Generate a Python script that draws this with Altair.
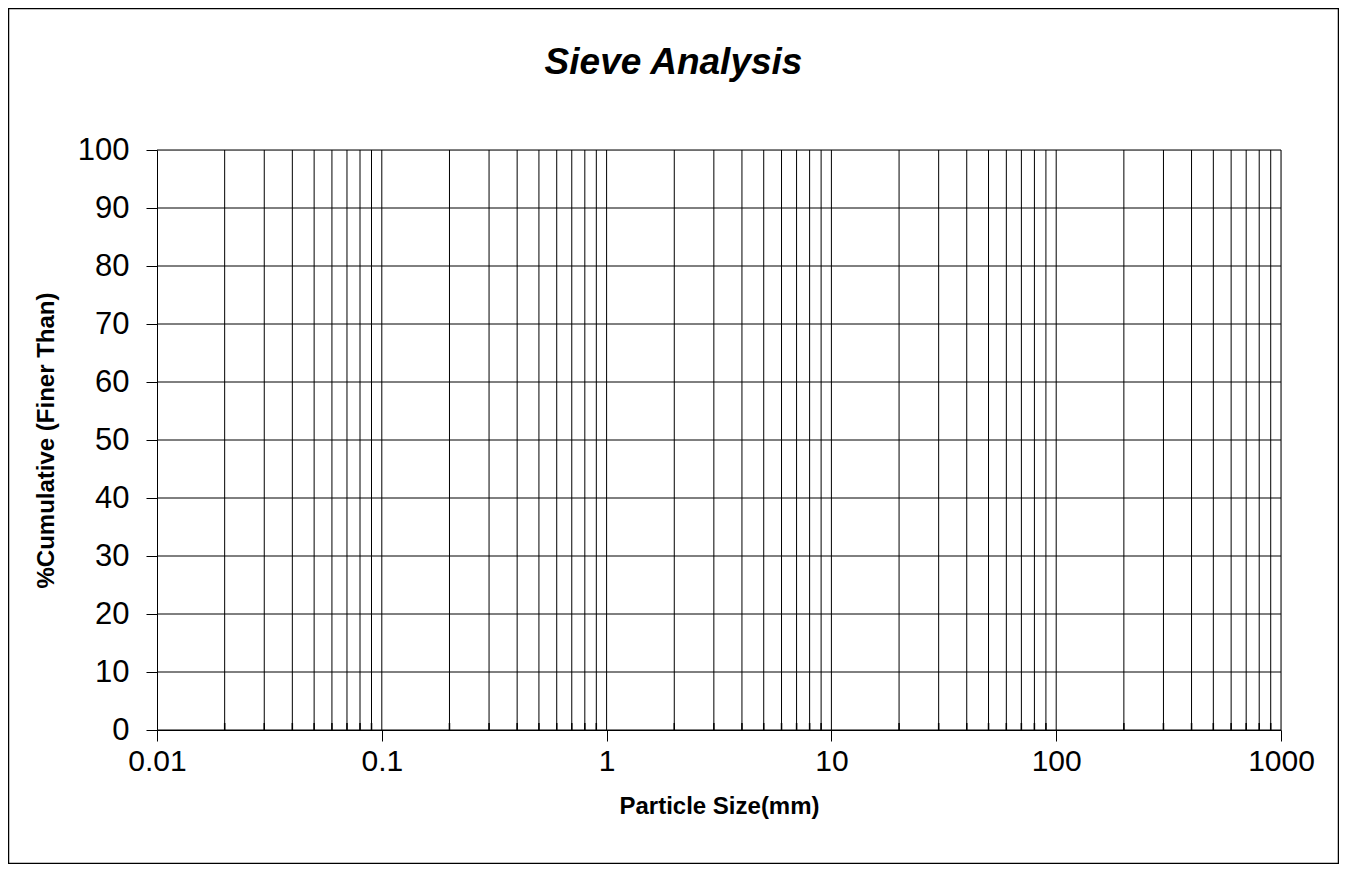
import altair as alt
import pandas as pd

# ---- data (empty sieve-analysis template) ----
chart_title = "Sieve Analysis"
x_title = "Particle Size(mm)"
y_title = "%Cumulative (Finer Than)"

decade_ticks = [0.01, 0.1, 1, 10, 100, 1000]
minor_grid = [0.02, 0.03, 0.04, 0.05, 0.06, 0.07, 0.08, 0.09,
              0.2, 0.3, 0.4, 0.5, 0.6, 0.7, 0.8, 0.9,
              2, 3, 4, 5, 6, 7, 8, 9,
              20, 30, 40, 50, 60, 70, 80, 90,
              200, 300, 400, 500, 600, 700, 800, 900]
major_grid = [0.1, 1, 10, 100, 1000]
y_ticks = [0, 10, 20, 30, 40, 50, 60, 70, 80, 90, 100]

W, H = 1124, 580
FONT = "Liberation Sans"

x_enc = alt.X(
    "size:Q",
    scale=alt.Scale(type="log", domain=[0.01, 1000], nice=False),
    axis=alt.Axis(
        values=decade_ticks,
        labelExpr="format(datum.value, '~g')",
        grid=False,
        tickSize=11,
        tickColor="black",
        domainColor="black",
        labelFontSize=30,
        labelFont=FONT,
        labelColor="black",
        labelPadding=5,
        labelFlush=False,
        labelOverlap=False,
        title=x_title,
        titleFont=FONT,
        titleFontSize=24,
        titleFontWeight="bold",
        titleColor="black",
        titleX=W / 2,
        titleY=83,
        titleBaseline="alphabetic",
        titleAlign="center",
    ),
)

y_enc = alt.Y(
    "pct:Q",
    scale=alt.Scale(domain=[0, 100], nice=False),
    axis=alt.Axis(
        values=y_ticks,
        grid=False,
        tickSize=11,
        tickColor="black",
        domainColor="black",
        labelFontSize=31,
        labelFont=FONT,
        labelColor="black",
        labelPadding=17,
        labelFlush=False,
        labelOverlap=False,
        title=y_title,
        titleFont=FONT,
        titleFontSize=24,
        titleFontWeight="bold",
        titleColor="black",
        titleAngle=-90,
        titleX=-111,
        titleY=H / 2,
        titleBaseline="middle",
        titleAlign="center",
    ),
)

grid_df = pd.DataFrame({"size": minor_grid + major_grid})
minor_df = pd.DataFrame({"size": minor_grid})
ygrid_df = pd.DataFrame({"pct": y_ticks})
frame_df = pd.DataFrame({"k": [0]})
title_df = pd.DataFrame({"t": [chart_title]})

vgrid = alt.Chart(grid_df).mark_rule(color="black", strokeWidth=1).encode(x=x_enc)
minor_ticks = alt.Chart(minor_df).mark_rule(color="black", strokeWidth=1.5).encode(
    x=x_enc, y=alt.value(H), y2=alt.value(H - 7)
)
hgrid = alt.Chart(ygrid_df).mark_rule(color="black", strokeWidth=1).encode(y=y_enc)

frame = alt.Chart(frame_df).mark_rect(
    fillOpacity=0, stroke="black", strokeWidth=1.5, clip=False
).encode(
    x=alt.value(-148.5), x2=alt.value(W + 57.5),
    y=alt.value(-141.5), y2=alt.value(H + 133.5),
)

title_mark = alt.Chart(title_df).mark_text(
    font=FONT, fontSize=37, fontWeight="bold", fontStyle="italic",
    color="black", align="center", baseline="alphabetic", clip=False,
).encode(
    text="t:N", x=alt.value(516.5), y=alt.value(-76),
)

chart = alt.layer(frame, vgrid, minor_ticks, hgrid, title_mark).properties(
    width=W,
    height=H,
    autosize=alt.AutoSizeParams(type="none"),
    padding={"left": 149, "top": 142, "right": 58, "bottom": 134},
).configure_view(stroke=None).configure(background="white")

chart.save("out.html", embed_options={"renderer": "svg", "actions": False})
